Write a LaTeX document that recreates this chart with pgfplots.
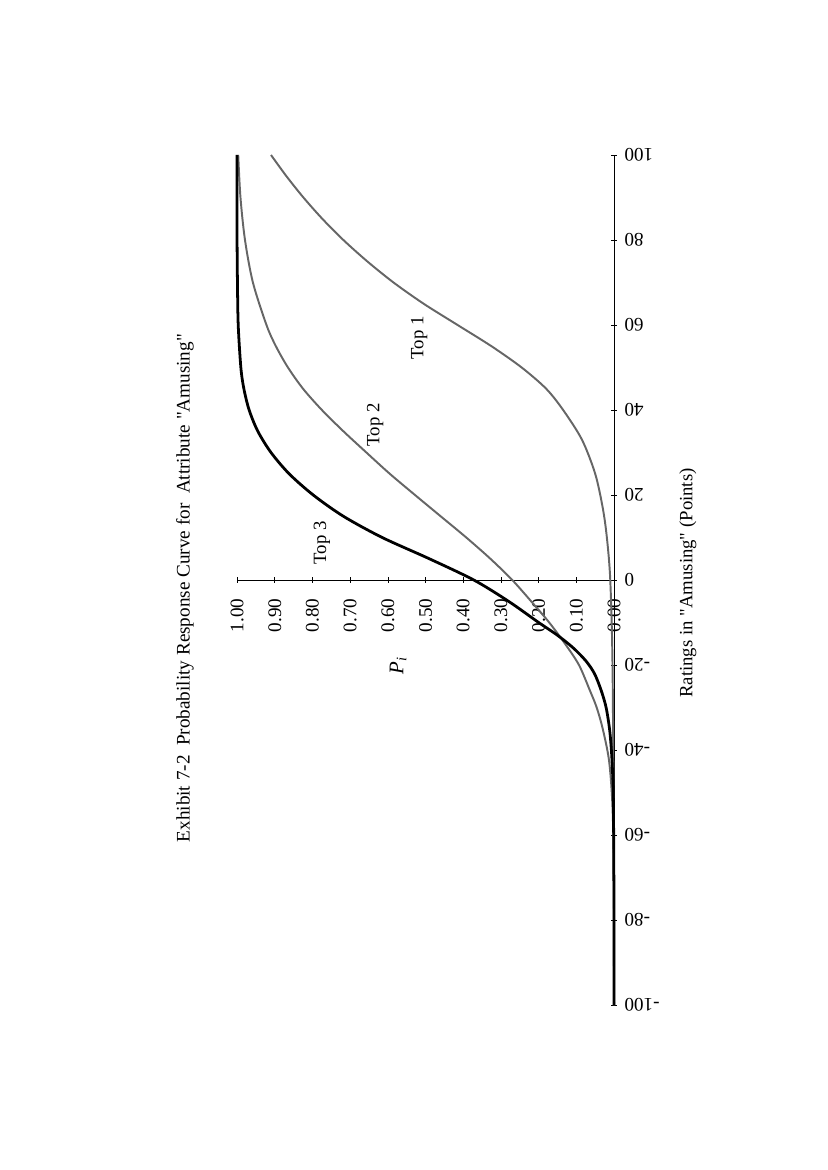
\documentclass[border=0pt]{standalone}
\usepackage{fontspec}
\setmainfont{Liberation Serif}
\usepackage{pgfplots}
\usepackage{pgfplotstable}
\pgfplotsset{compat=1.18}

% rating (points) vs response probability
\pgfplotstableread{
rating P
-100 0.000
-80 0.000
-60 0.001
-50 0.002
-45 0.004
-40 0.007
-35 0.012
-30 0.021
-26 0.034
-22 0.052
-19 0.075
-16 0.108
-13 0.150
-10 0.200
-5 0.280
0 0.372
5 0.490
10 0.615
15 0.718
20 0.798
25 0.862
30 0.910
35 0.945
40 0.968
45 0.982
50 0.990
60 0.997
70 0.999
80 1.000
100 1.000
}\topthree

\pgfplotstableread{
rating P
-100 0.000
-80 0.000
-60 0.002
-50 0.006
-42 0.014
-35 0.030
-30 0.046
-26 0.064
-20 0.093
-15 0.130
-10 0.172
-5 0.220
0 0.270
5 0.328
10 0.392
15 0.460
20 0.528
25 0.595
30 0.657
35 0.718
40 0.775
45 0.825
50 0.865
55 0.897
60 0.922
70 0.958
80 0.979
90 0.991
100 0.997
}\toptwo

\pgfplotstableread{
rating P
-100 0.000
-60 0.001
-20 0.004
0 0.010
10 0.019
17 0.030
25 0.050
33 0.085
40 0.135
45 0.180
50 0.245
55 0.325
60 0.415
65 0.505
70 0.585
75 0.655
80 0.718
85 0.774
90 0.824
95 0.869
100 0.910
}\topone

\begin{document}
\begin{tikzpicture}
\path[use as bounding box] (0pt,0pt) rectangle (595.44pt,-842.4pt);
\begin{axis}[
  at={(442.1pt,-723.6pt)}, anchor=south east,
  scale only axis, width=271.4pt, height=612pt,
  x dir=reverse,
  xmin=0, xmax=1, ymin=-100, ymax=100,
  axis lines=middle,
  axis line style={-, line width=0.6pt},
  clip=false,
  xtick={0,0.1,0.2,0.3,0.4,0.5,0.6,0.7,0.8,0.9,1.0},
  ytick={-100,-80,-60,-40,-20,0,20,40,60,80,100},
  hide obscured x ticks=false, hide obscured y ticks=false,
  tick style={black, line width=0.5pt},
  major tick length=4pt,
  /pgf/number format/assume math mode=true,
  xticklabel style={font=\fontsize{13.8}{16}\selectfont, anchor=east, yshift=-8pt, rotate=90,
    /pgf/number format/.cd, fixed, fixed zerofill, precision=2},
  yticklabel style={font=\fontsize{13.8}{16}\selectfont, anchor=east, xshift=6pt, rotate=180},
]
\addplot[black!60, line width=1.4pt, smooth] table[x=P, y=rating] {\topone};
\addplot[black!60, line width=1.4pt, smooth] table[x=P, y=rating] {\toptwo};
\addplot[black, line width=2pt, smooth] table[x=P, y=rating] {\topthree};

\node[rotate=90, font=\fontsize{13.8}{16}\selectfont] at (axis cs:1.138,-1.9)
  {Exhibit 7-2\ \ Probability Response Curve for\ \ Attribute \textquotedbl Amusing\textquotedbl};
\node[rotate=90, font=\fontsize{13.5}{16}\selectfont] at (axis cs:-0.196,-0.7)
  {Ratings in \textquotedbl Amusing\textquotedbl\ (Points)};
\node[rotate=90, font=\fontsize{15}{17}\selectfont] at (axis cs:0.573,-20.2)
  {\textit{P}\textsubscript{\textit{i}}};
\node[rotate=90, font=\fontsize{13.5}{16}\selectfont] at (axis cs:0.775,8.7) {Top 3};
\node[rotate=90, font=\fontsize{13.5}{16}\selectfont] at (axis cs:0.634,36.5) {Top 2};
\node[rotate=90, font=\fontsize{13.5}{16}\selectfont] at (axis cs:0.517,57) {Top 1};
\end{axis}
\end{tikzpicture}
\end{document}
